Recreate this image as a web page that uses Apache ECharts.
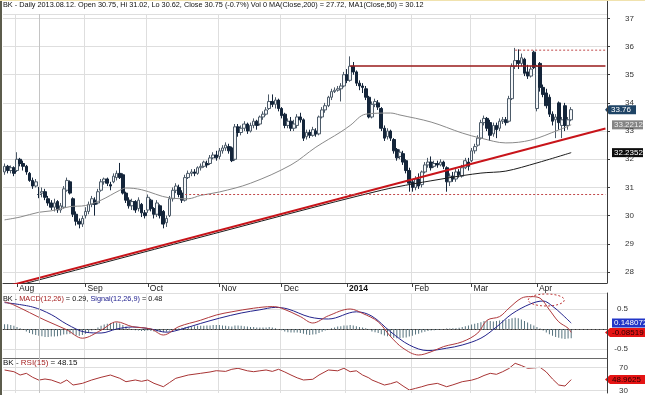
<!DOCTYPE html>
<html>
<head>
<meta charset="utf-8">
<script src="https://cdn.jsdelivr.net/npm/echarts@6/dist/echarts.min.js"></script>
<style>
html,body{margin:0;padding:0;background:#ffffff;}
#chart{width:645px;height:395px;}
</style>
</head>
<body>
<div id="chart"></div>
<script>
// ---------- categories (trading days; last entries are empty future slots) ----------
const tradeDays = [
  ['2013-07',[26,29,30,31]],
  ['2013-08',[1,2,5,6,7,8,9,12,13,14,15,16,19,20,21,22,23,26,27,28,29,30]],
  ['2013-09',[3,4,5,6,9,10,11,12,13,16,17,18,19,20,23,24,25,26,27,30]],
  ['2013-10',[1,2,3,4,7,8,9,10,11,14,15,16,17,18,21,22,23,24,25,28,29,30,31]],
  ['2013-11',[1,4,5,6,7,8,11,12,13,14,15,18,19,20,21,22,25,26,27,29]],
  ['2013-12',[2,3,4,5,6,9,10,11,12,13,16,17,18,19,20,23,24,26,27,30,31]],
  ['2014-01',[2,3,6,7,8,9,10,13,14,15,16,17,21,22,23,24,27,28,29,30,31]],
  ['2014-02',[3,4,5,6,7,10,11,12,13,14,18,19,20,21,24,25,26,27,28]],
  ['2014-03',[3,4,5,6,7,10,11,12,13,14,17,18,19,20,21,24,25,26,27,28,31]],
  ['2014-04',[1,2,3,4,7,8,9,10,11,14,15,16,17,21,22,23,24,25,28,29,30]],
  ['2014-05',[1,2]]
];
const monthLabels = ['Aug','Sep','Oct','Nov','Dec','2014','Feb','Mar','Apr'];

// ---------- price candles ----------
const open = [31.55,31.75,31.6,31.7,31.6,32.0,31.85,31.75,31.5,31.25,
31.05,30.75,30.8,30.85,30.6,30.45,30.3,30.5,30.2,30.3,
30.9,31.2,30.6,30.05,29.8,29.7,30.0,30.15,30.4,30.55,
30.45,30.9,31.2,31.3,31.1,31.2,31.35,31.5,31.45,30.8,
30.55,30.35,30.5,30.25,30.4,30.1,30.2,30.55,30.25,30.05,
30.35,30.15,29.75,30.0,30.6,30.9,31.0,30.8,30.55,31.35,
31.5,31.55,31.5,31.7,31.75,31.85,31.85,32.05,32.15,32.1,
32.3,32.4,32.45,32.4,32.0,33.15,32.95,33.1,33.25,33.0,
33.2,33.35,33.25,33.5,33.6,33.8,34.05,33.95,34.1,33.8,
33.6,33.2,33.35,33.1,33.2,33.5,33.4,32.8,32.95,32.85,
33.0,32.9,33.5,33.75,33.9,34.2,34.4,34.45,34.5,34.6,
35.0,34.8,35.3,35.1,34.7,34.6,34.5,34.2,33.5,33.95,
34.0,33.8,33.1,32.8,33.0,32.7,32.35,32.1,32.2,31.95,
31.6,31.2,31.0,31.3,31.1,31.55,31.8,31.9,31.75,31.85,
31.8,31.9,31.7,31.2,31.4,31.3,31.55,31.4,31.7,31.9,
31.95,32.3,32.5,32.75,33.3,33.45,33.3,32.9,33.2,33.1,
33.35,33.4,33.35,34.15,35.3,35.5,35.4,35.55,35.1,34.95,
35.8,33.8,35.4,34.55,34.35,34.2,33.6,33.4,34.0,33.2,
33.9,33.2,33.4];
const close = [31.75,31.6,31.7,31.5,32.0,31.85,31.75,31.55,31.25,31.05,
31.2,30.75,30.85,30.65,30.45,30.3,30.45,30.2,30.35,30.95,
31.25,30.8,30.05,29.8,29.7,29.9,30.15,30.4,30.6,30.4,
30.85,31.2,31.3,31.15,31.05,31.4,31.5,31.35,30.8,30.55,
30.35,30.5,30.2,30.55,30.1,30.0,30.65,30.25,30.05,30.45,
30.0,29.7,29.9,30.6,30.9,31.05,30.75,30.55,31.35,31.5,
31.55,31.5,31.7,31.75,31.9,31.8,32.05,32.15,32.05,32.3,
32.4,32.5,32.3,31.95,33.15,32.95,33.1,33.25,33.0,33.2,
33.35,33.2,33.5,33.6,33.75,34.05,33.95,34.1,33.8,33.55,
33.2,33.35,33.1,33.25,33.5,33.4,32.75,32.95,32.85,33.05,
32.9,33.5,33.75,33.9,34.2,34.4,34.45,34.5,34.6,35.0,
34.8,35.3,35.1,34.7,34.6,34.55,34.2,33.5,33.95,34.05,
33.85,33.1,32.75,33.0,32.75,32.3,32.05,32.25,31.9,31.6,
31.15,31.0,31.3,31.05,31.55,31.8,31.9,31.7,31.85,31.8,
31.9,31.75,31.2,31.4,31.3,31.55,31.45,31.7,31.95,31.75,
32.3,32.45,32.75,33.3,33.45,33.1,32.85,33.2,33.05,33.35,
33.4,33.3,34.15,35.3,35.5,35.4,35.6,35.05,34.95,35.2,
35.25,35.3,34.55,34.3,33.9,33.6,33.35,33.5,33.3,33.4,
33.2,33.4,33.76];
const low = [31.45,31.5,31.5,31.4,31.55,31.75,31.6,31.45,31.2,30.95,
31.0,30.62,30.65,30.55,30.35,30.2,30.15,30.1,30.1,30.25,
30.85,30.75,29.95,29.65,29.55,29.6,29.9,30.05,30.3,30.0,
30.4,30.85,31.1,31.05,30.9,31.15,31.25,31.3,30.75,30.45,
30.25,30.2,30.1,30.15,29.95,29.9,30.1,30.15,29.9,29.95,
29.9,29.55,29.6,29.95,30.5,30.8,30.65,30.45,30.5,31.3,
31.4,31.4,31.45,31.6,31.7,31.7,31.8,32.0,31.95,32.0,
32.2,32.3,32.2,31.9,31.95,32.8,32.85,33.0,32.9,32.95,
33.1,33.05,33.2,33.4,33.55,33.75,33.85,33.8,33.7,33.45,
33.1,33.1,33.0,33.0,33.1,33.3,32.65,32.7,32.75,32.8,
32.8,32.85,33.45,33.65,33.85,34.1,34.35,34.4,34.05,34.55,
34.7,34.75,35.0,34.6,34.45,34.35,34.1,33.45,33.45,33.85,
33.75,33.0,32.65,32.7,32.65,32.2,31.95,32.0,31.8,31.5,
30.85,30.85,30.9,30.95,31.0,31.5,31.7,31.6,31.7,31.7,
31.75,31.65,30.85,31.05,31.2,31.2,31.35,31.35,31.65,31.6,
31.9,32.2,32.45,32.7,33.2,33.0,32.65,32.8,32.75,33.0,
33.25,33.2,33.3,34.1,35.2,35.2,35.3,34.95,34.85,34.9,
35.2,33.7,34.4,34.2,33.8,33.5,33.2,32.75,33.05,32.75,
33.0,33.05,33.35];
const high = [31.85,31.8,31.78,31.75,32.25,32.05,31.95,31.8,31.55,31.35,
31.3,31.02,31.0,30.95,30.7,30.55,30.6,30.55,30.45,31.05,
31.35,31.25,30.65,30.15,29.9,30.0,30.3,30.5,30.7,30.65,
30.95,31.3,31.35,31.35,31.2,31.5,31.6,31.87,31.5,30.85,
30.65,30.6,30.55,30.65,30.45,30.2,30.75,30.6,30.3,30.55,
30.4,30.2,30.0,30.7,31.0,31.15,31.1,30.9,31.45,31.6,
31.65,31.65,31.75,31.85,31.95,31.95,32.15,32.25,32.3,32.4,
32.5,32.6,32.55,32.45,33.25,33.25,33.2,33.35,33.3,33.3,
33.45,33.4,33.55,33.7,33.85,34.3,34.3,34.2,34.15,33.85,
33.65,33.45,33.5,33.4,33.6,33.65,33.45,33.05,33.05,33.15,
33.1,33.55,33.85,34.0,34.25,34.5,34.55,34.6,34.7,35.1,
35.2,35.65,35.45,35.15,34.8,34.7,34.6,34.25,34.05,34.15,
34.1,33.85,33.2,33.1,33.05,32.75,32.4,32.35,32.3,32.0,
31.7,31.3,31.4,31.5,31.6,31.9,32.05,32.1,31.95,31.95,
32.0,31.95,31.75,31.5,31.55,31.65,31.65,31.8,32.05,32.05,
32.4,32.55,32.85,33.4,33.55,33.5,33.4,33.3,33.3,33.45,
33.5,33.5,34.25,35.4,35.95,35.9,35.75,35.6,35.35,35.3,
35.85,35.35,35.45,34.65,34.5,34.3,33.7,33.6,34.05,33.5,
34.0,33.5,33.85];

// ---------- moving averages, read at sample days: [dayIndex, value] ----------
const ma50 = [[0,29.85],[5,29.95],[11,30.12],[15,30.17],[21,30.32],[26,30.36],[31,30.55],[37,30.9],[39,30.98],[44,30.92],[53,30.63],[59,30.6],[63,30.72],[69,30.84],[79,31.15],[92,31.8],[100,32.43],[108,32.97],[111,33.2],[116,33.6],[124,33.64],[127,33.57],[137,33.32],[147,32.93],[153,32.75],[161,32.58],[169,32.68],[178,33.04],[182,33.2212]];
const ma200 = [[0,27.40],[11,27.72],[60,29.15],[121,30.9],[142,31.33],[153,31.51],[161,31.58],[171,31.87],[182,32.2352]];

// ---------- drawn lines: [dayIndex, price] ----------
const trendLine = [[0,27.47],[193,33.09]];
const resistance = [[111,35.31],[193,35.31]];
const lowDotted = [[58,30.75],[193,30.75]];
const topDotted = [[164,35.87],[193,35.87]];

// ---------- MACD (12,26,9) ----------
const macdLine = [[0,0.68],[3,0.6],[13,0.22],[20,-0.02],[25,-0.23],[31,-0.03],[36,0.18],[41,0.06],[47,0.0],[51,-0.15],[56,0.06],[63,0.22],[68,0.35],[73,0.43],[80,0.52],[86,0.56],[89,0.52],[95,0.31],[99,0.15],[104,0.33],[111,0.5],[115,0.39],[120,0.18],[124,-0.19],[128,-0.48],[133,-0.65],[137,-0.57],[141,-0.44],[147,-0.32],[152,-0.1],[155,0.22],[159,0.31],[162,0.52],[166,0.77],[169,0.81],[172,0.77],[175,0.48],[178,0.18],[181,0.02],[182,-0.08519]];
const signalLine = [[0,0.66],[9,0.55],[15,0.36],[20,0.12],[26,-0.08],[31,-0.1],[36,0.0],[41,0.05],[47,0.0],[52,-0.08],[57,0.0],[63,0.14],[69,0.27],[76,0.4],[82,0.48],[87,0.54],[91,0.5],[98,0.3],[104,0.25],[113,0.43],[118,0.32],[124,-0.07],[130,-0.4],[136,-0.54],[142,-0.48],[147,-0.4],[153,-0.23],[158,0.05],[163,0.38],[169,0.63],[173,0.7],[176,0.57],[179,0.37],[182,0.148072]];
const macdHist = [0.12,0.12,0.1,0.08,0.05,0.02,
-0.02,-0.06,-0.1,-0.13,-0.15,
-0.17,-0.18,-0.2,-0.2,-0.19,-0.19,
-0.18,-0.16,-0.14,-0.13,-0.12,-0.14,
-0.16,-0.17,-0.15,-0.12,-0.08,
-0.04,0.0,0.04,0.08,0.11,
0.13,0.15,0.16,0.16,0.14,0.1,
0.06,0.02,-0.01,-0.03,-0.04,-0.05,
-0.05,-0.04,-0.05,-0.06,-0.06,-0.07,
-0.08,-0.07,-0.04,-0.01,0.01,0.02,
0.03,0.05,0.06,0.07,0.07,0.08,
0.08,0.08,0.09,0.09,0.1,0.1,0.1,0.09,
0.08,0.07,0.06,0.09,0.09,0.08,0.07,0.06,0.05,0.05,
0.04,0.04,0.04,0.04,0.05,0.04,0.02,0.0,
-0.03,-0.06,-0.08,-0.09,-0.09,-0.09,-0.1,
-0.12,-0.14,-0.15,-0.14,-0.13,-0.1,-0.07,
-0.04,-0.01,0.02,0.04,0.06,0.07,0.09,
0.09,0.1,0.09,0.07,0.05,0.04,
0.02,-0.02,-0.06,-0.08,-0.1,
-0.13,-0.16,-0.18,-0.2,-0.22,-0.23,-0.23,
-0.22,-0.21,-0.19,-0.17,-0.14,-0.12,
-0.09,-0.07,-0.05,-0.04,-0.03,-0.02,-0.01,
0.0,0.01,0.01,0.02,0.02,0.03,
0.05,0.07,0.09,0.11,0.13,0.15,
0.17,0.2,0.21,0.2,0.19,0.2,
0.21,0.22,0.23,0.25,0.27,0.28,0.27,
0.24,0.2,0.16,0.12,0.09,
0.05,0.01,-0.04,-0.09,-0.13,-0.17,
-0.2,-0.22,-0.24,-0.25,-0.24,-0.23];

// ---------- RSI(15) ----------
const rsiLine = [[0,65.4],[3,62.5],[5,56.8],[7,59.7],[9,53],[11,48.15],[13,50],[15,48.3],[18,42.6],[20,48.3],[22,39.7],[25,42.6],[28,48.3],[31,52.9],[34,56.8],[37,51.2],[39,45.4],[42,48.3],[44,46],[46,48.3],[48,42.6],[51,36.8],[53,44],[55,51.2],[59,56.8],[63,59.7],[66,62],[68,64.2],[71,63],[73,66.6],[75,68.3],[78,64],[80,62.5],[82,64],[84,65.4],[86,63],[88,66.6],[90,62],[92,56.8],[94,52],[96,48.3],[99,49.5],[101,56.8],[104,65.4],[107,64],[109,68.3],[111,62.5],[113,64],[115,56.8],[117,52],[118,48.3],[120,44],[122,39.7],[124,42],[126,45.4],[128,38],[130,31.2],[132,34],[134,36.8],[136,40],[139,42.6],[142,36.8],[144,40],[147,45.4],[150,48],[152,51.2],[154,56],[156,59.7],[158,58],[160,62.5],[162,68],[164,76.8],[166,73],[168,68.3],[170,69],[172,70],[174,62],[176,50],[178,39.7],[180,38],[182,48.96]];

// ---------- last-value tags ----------
const lastClose = 33.76, lastMA50 = 33.2212, lastMA200 = 32.2352;
const lastSignal = 0.148072, lastMACD = -0.08519, lastRSI = 48.9625;
const cursorIdx = 11;          // 2013.08.12
const macdNote = [174, 0.725]; // dashed ellipse centre (day, value)

// ---------- build ----------
const FONT = '"Liberation Sans", Arial, sans-serif';
const cats = [];
tradeDays.forEach(([m, ds]) => ds.forEach(d => cats.push(m + '-' + (d < 10 ? '0' : '') + d)));
const monthStart = {};
(function(){ let k = 0; for (let i = 1; i < cats.length; i++) { if (cats[i].slice(0,7) !== cats[i-1].slice(0,7) && k < monthLabels.length) monthStart[i] = monthLabels[k++]; } })();
const isStart = (i) => monthStart[i] !== undefined;
const candles = open.map((o, i) => [o, close[i], low[i], high[i]]);

const GL = 3, GR = 38;
const gridCol = '#dedede';

function xAxisFor(g, main) {
  return {
    type: 'category', gridIndex: g, data: cats, boundaryGap: true,
    position: main ? 'bottom' : 'top',
    axisLine: { show: true, lineStyle: { color: main ? '#3c3c3c' : '#6a6a6a', width: 1 } },
    axisTick: { show: main, interval: (i) => isStart(i), alignWithLabel: true, length: 4, lineStyle: { color: '#3c3c3c' } },
    axisLabel: {
      show: main, interval: (i) => isStart(i),
      formatter: (v, i) => monthStart[i] === '2014' ? '{b|2014}' : (monthStart[i] || ''),
      align: 'left', padding: [0, 0, 0, 2], margin: 1, fontSize: 8.5, fontFamily: FONT, color: '#222',
      rich: { b: { fontWeight: 'bold', fontSize: 8.5, fontFamily: FONT, color: '#111' } }
    },
    splitLine: { show: true, interval: (i) => isStart(i), lineStyle: { color: gridCol, width: 1 } }
  };
}
const cursorLine = { xAxis: cats[cursorIdx], lineStyle: { color: '#c4c4c4', width: 1, type: 'solid' } };
const lineBase = { showSymbol: false, symbol: 'none', silent: true, animation: false };

const chart = echarts.init(document.getElementById('chart'), null, { renderer: 'canvas' });
const option = {
  animation: false,
  backgroundColor: '#ffffff',
  title: [
    { text: 'BK - Daily 2013.08.12. Open 30.75, Hi 31.02, Lo 30.62, Close 30.75 (-0.7%) Vol 0 MA(Close,200) = 27.72, MA1(Close,50) = 30.12',
      left: 3, top: 1, padding: 0, textStyle: { fontSize: 7.3, fontWeight: 'normal', color: '#111', fontFamily: FONT } },
    { text: 'BK - {r|MACD(12,26)} = 0.29, {b|Signal(12,26,9)} = 0.48', left: 3, top: 295, padding: 0,
      textStyle: { fontSize: 7.3, fontWeight: 'normal', color: '#111', fontFamily: FONT,
        rich: { r: { color: '#a51f1f', fontSize: 7.3, fontFamily: FONT }, b: { color: '#22228f', fontSize: 7.3, fontFamily: FONT } } } },
    { text: 'BK - {r|RSI(15)} = 48.15', left: 3, top: 359, padding: 0,
      textStyle: { fontSize: 8, fontWeight: 'normal', color: '#111', fontFamily: FONT,
        rich: { r: { color: '#a51f1f', fontSize: 8, fontFamily: FONT } } } }
  ],
  grid: [
    { left: GL, right: GR, top: 14, height: 269 },
    { left: GL, right: GR, top: 293, height: 65 },
    { left: GL, right: GR, top: 358, height: 35 }
  ],
  xAxis: [xAxisFor(0, true), xAxisFor(1, false), xAxisFor(2, false)],
  yAxis: [
    { type: 'value', gridIndex: 0, position: 'right', min: 27.611, max: 37.153, splitNumber: 10,
      axisLine: { show: true, lineStyle: { color: '#3c3c3c' } },
      axisTick: { show: true, length: 3, lineStyle: { color: '#3c3c3c' } },
      axisLabel: { showMinLabel: false, showMaxLabel: false, fontSize: 8, color: '#333', fontFamily: FONT, margin: 27, align: 'right' },
      splitLine: { show: true, lineStyle: { color: gridCol } } },
    { type: 'value', gridIndex: 1, position: 'right', min: -0.725, max: 0.9, splitNumber: 3,
      axisLine: { show: true, lineStyle: { color: '#3c3c3c' } },
      axisTick: { show: false },
      axisLabel: { showMinLabel: false, showMaxLabel: false, fontSize: 8, color: '#333', fontFamily: FONT, margin: 21, align: 'right',
        formatter: (v) => Math.abs(v) < 1e-9 ? '' : String(v) },
      splitLine: { show: true, lineStyle: { color: gridCol } } },
    { type: 'value', gridIndex: 2, position: 'right', min: 26.07, max: 85.9, splitNumber: 6,
      axisLine: { show: true, lineStyle: { color: '#3c3c3c' } },
      axisTick: { show: false },
      axisLabel: { showMinLabel: false, showMaxLabel: false, fontSize: 8, color: '#333', fontFamily: FONT, margin: 21, align: 'right',
        formatter: (v) => (Math.abs(v - 30) < 1e-9 || Math.abs(v - 70) < 1e-9) ? String(v) : '' },
      splitLine: { show: false } }
  ],
  series: [
    { type: 'candlestick', xAxisIndex: 0, yAxisIndex: 0, data: candles, barWidth: 3.2, silent: true,
      itemStyle: { color: '#f4f6f8', color0: '#14253a', borderColor: '#4d5b69', borderColor0: '#14253a', borderWidth: 1 },
      markLine: { silent: true, symbol: 'none', label: { show: false }, animation: false, data: [cursorLine] } },
    Object.assign({ type: 'line', xAxisIndex: 0, yAxisIndex: 0, data: ma50, smooth: 0.35, lineStyle: { color: '#8a8a8a', width: 1 } }, lineBase),
    Object.assign({ type: 'line', xAxisIndex: 0, yAxisIndex: 0, data: ma200, smooth: 0.3, lineStyle: { color: '#1c1c1c', width: 1 } }, lineBase),
    Object.assign({ type: 'line', xAxisIndex: 0, yAxisIndex: 0, data: trendLine, lineStyle: { color: '#c8141a', width: 2 } }, lineBase),
    Object.assign({ type: 'line', xAxisIndex: 0, yAxisIndex: 0, data: resistance, lineStyle: { color: '#981a1a', width: 1.5 } }, lineBase),
    Object.assign({ type: 'line', xAxisIndex: 0, yAxisIndex: 0, data: lowDotted, lineStyle: { color: '#c0484a', width: 1, type: [2, 2] } }, lineBase),
    Object.assign({ type: 'line', xAxisIndex: 0, yAxisIndex: 0, data: topDotted, lineStyle: { color: '#c0484a', width: 1, type: [2, 2] } }, lineBase),
    { type: 'bar', xAxisIndex: 1, yAxisIndex: 1, data: macdHist, barWidth: 1, silent: true,
      itemStyle: { color: '#56737e' },
      markLine: { silent: true, symbol: 'none', label: { show: false }, animation: false,
        data: [ { yAxis: 0, lineStyle: { color: '#333', width: 1, type: [1, 3] } }, cursorLine ] } },
    Object.assign({ type: 'line', xAxisIndex: 1, yAxisIndex: 1, data: signalLine, smooth: 0.35, lineStyle: { color: '#23238c', width: 1 } }, lineBase),
    Object.assign({ type: 'line', xAxisIndex: 1, yAxisIndex: 1, data: macdLine, smooth: 0.35, lineStyle: { color: '#b0393c', width: 1 } }, lineBase),
    Object.assign({ type: 'line', xAxisIndex: 2, yAxisIndex: 2, data: rsiLine, lineStyle: { color: '#a83434', width: 1 },
      markLine: { silent: true, symbol: 'none', label: { show: false }, animation: false,
        data: [ { yAxis: 30, lineStyle: { color: gridCol, width: 1, type: 'solid' } }, { yAxis: 70, lineStyle: { color: gridCol, width: 1, type: 'solid' } }, cursorLine ] } }, lineBase)
  ]
};
chart.setOption(option);

// ---------- decorations placed through the chart's own scales ----------
const W = chart.getWidth(), H = chart.getHeight();
const AX = W - GR;
function tag(yAxisIndex, value, text, bg, fg, arrow, bx0, bx1) {
  const y = chart.convertToPixel({ yAxisIndex: yAxisIndex }, value);
  const h = 9, x1 = bx1;
  const pts = arrow
    ? [[AX - 2, y], [bx0, y - h / 2], [x1, y - h / 2], [x1, y + h / 2], [bx0, y + h / 2]]
    : [[bx0, y - h / 2], [x1, y - h / 2], [x1, y + h / 2], [bx0, y + h / 2]];
  return {
    type: 'group', silent: true, z: 100,
    children: [
      { type: 'polygon', shape: { points: pts }, style: { fill: bg } },
      { type: 'text', style: { text: text, x: bx0 + 2, y: y, fill: fg, font: '8px ' + FONT, verticalAlign: 'middle', align: 'left' } }
    ]
  };
}
const noteC = chart.convertToPixel({ xAxisIndex: 1, yAxisIndex: 1 }, macdNote);
chart.setOption({
  graphic: [
    { type: 'rect', silent: true, shape: { x: 0, y: 0, width: W, height: 1 }, style: { fill: '#f0e2ae' } },
    { type: 'rect', silent: true, shape: { x: 0, y: 1, width: 2, height: H - 1 }, style: { fill: '#5c5c4c' } },
    { type: 'line', silent: true, shape: { x1: AX + 0.5, y1: 1, x2: AX + 0.5, y2: 14 }, style: { stroke: '#3c3c3c', lineWidth: 1 } },
    { type: 'ellipse', silent: true, z: 90, shape: { cx: noteC[0], cy: noteC[1], rx: 18, ry: 6 }, style: { fill: 'none', stroke: '#c03a3a', lineWidth: 1, lineDash: [2, 2] } },
    tag(0, lastClose, String(lastClose), '#1f4466', '#ffffff', true, AX + 2, AX + 29),
    tag(0, lastMA50, String(lastMA50), '#858585', '#eeeeee', false, AX + 5, AX + 36),
    tag(0, lastMA200, String(lastMA200), '#0c0c0c', '#ffffff', false, AX + 5, AX + 36),
    tag(1, lastSignal, String(lastSignal), '#2236c8', '#ffffff', false, AX + 5, W),
    tag(1, lastMACD, String(lastMACD), '#e51414', '#2a0000', true, AX + 3, W),
    tag(2, lastRSI, String(lastRSI), '#e51414', '#2a0000', true, AX + 3, W)
  ]
});
</script>
</body>
</html>
